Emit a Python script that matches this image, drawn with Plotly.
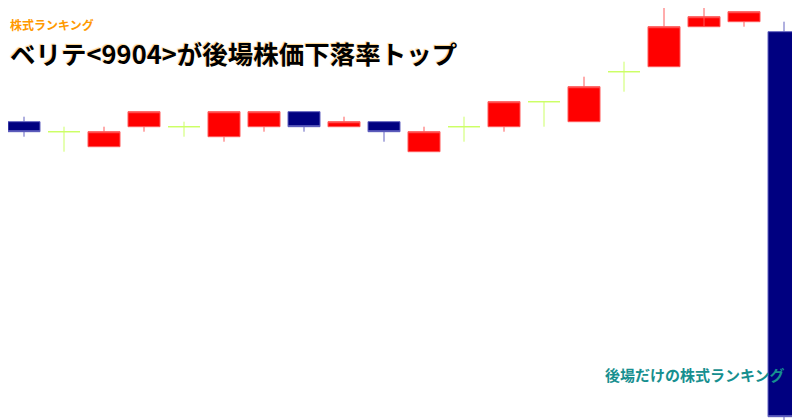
import plotly.graph_objects as go

# 20 sessions, price (1 tick = 5px)
days = list(range(1, 21))
opens = [501, 499, 496, 500, 500, 498, 500, 503, 500, 501, 495, 500, 500, 505, 501, 511, 512, 520, 521, 519]
closes = [499, 499, 499, 503, 500, 503, 503, 500, 501, 499, 499, 500, 505, 505, 508, 511, 520, 522, 523, 442]
highs = [502, 500, 500, 503, 501, 503, 503, 503, 502, 501, 500, 502, 505, 505, 510, 513, 524, 526, 523, 521]
lows = [498, 495, 496, 499, 498, 497, 499, 499, 500, 497, 495, 497, 499, 500, 501, 507, 512, 522, 520, 441]

title_text = "ベリテ&lt;9904&gt;が後場株価下落率トップ"
tag_text = "株式ランキング"
footer_text = "後場だけの株式ランキング"

W, H = 800, 420
PAGE_PAD = 8  # browser body margin around the plot div


def pick(cond):
    idx = [i for i in range(len(days)) if cond(opens[i], closes[i])]
    return dict(
        x=[days[i] for i in idx],
        open=[opens[i] for i in idx],
        high=[highs[i] for i in idx],
        low=[lows[i] for i in idx],
        close=[closes[i] for i in idx],
    )


fig = go.Figure()

# up candles (red), down candles (navy), doji (light green)
groups = [
    (lambda o, c: c > o, "#ff0000", "#ff5a5a"),
    (lambda o, c: c < o, "#000080", "#6262c0"),
    (lambda o, c: c == o, "#ccff66", "#ccff66"),
]
for cond, fill, line in groups:
    fig.add_trace(go.Candlestick(
        **pick(cond),
        increasing=dict(fillcolor=fill, line=dict(color=line, width=1)),
        decreasing=dict(fillcolor=fill, line=dict(color=line, width=1)),
        showlegend=False,
        hoverinfo="skip",
    ))


def px_to_paper(px, py):
    # page pixel -> paper fraction, taking the body margin into account
    return (px - PAGE_PAD) / W, 1 - (py - PAGE_PAD) / H


labels = [
    (tag_text, 8, 25, 12, "#ff9900", None),
    (title_text, 8, 53, 25.5, "#000000", "-1px -1px 1px rgba(255,160,0,0.45)"),
    (footer_text, 603, 374, 15, "#178f8f", None),
]
for text, lx, ly, size, color, shadow in labels:
    ax, ay = px_to_paper(lx, ly)
    font = dict(family="Noto Sans CJK JP", size=size, color=color, weight="bold")
    if shadow:
        font["shadow"] = shadow
    fig.add_annotation(
        text=text, x=ax, y=ay, xref="paper", yref="paper",
        showarrow=False, xanchor="left", yanchor="middle", font=font,
    )

fig.update_layout(
    width=W, height=H,
    margin=dict(l=0, r=0, t=0, b=0),
    paper_bgcolor="white", plot_bgcolor="white",
    boxgap=0.2, boxgroupgap=0,
    xaxis=dict(visible=False, range=[0.6, 20.6], rangeslider=dict(visible=False)),
    yaxis=dict(visible=False, range=[439.74, 523.74]),
)

fig.write_html("out.html")
